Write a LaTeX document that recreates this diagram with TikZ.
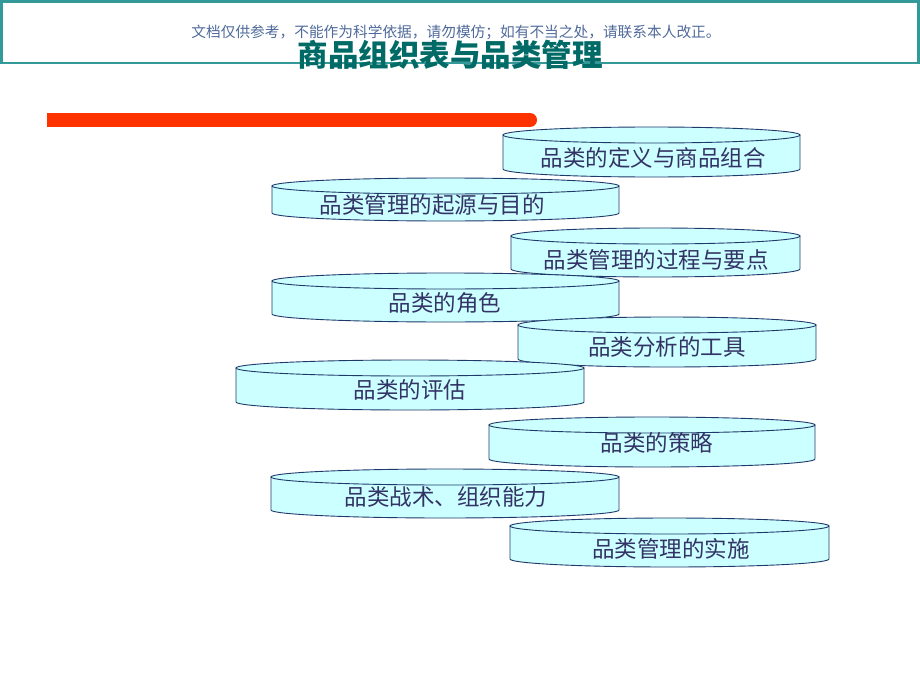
\documentclass[tikz,border=0pt]{standalone}
\usepackage{fontspec}
\newfontfamily\cjk{Noto Sans CJK SC}
\definecolor{framecol}{HTML}{339999}
\definecolor{titlecol}{HTML}{006A66}
\definecolor{notecol}{HTML}{4F6A9A}
\definecolor{barcol}{HTML}{FF3300}
\definecolor{discfill}{HTML}{CCFFFF}
\definecolor{discdraw}{HTML}{1F3A6A}
\definecolor{disccol}{HTML}{333366}
\begin{document}
\begin{tikzpicture}[x=1pt,y=-1pt,
  discline/.style={draw=discdraw,fill=discfill,line width=0.9pt},
  disctext/.style={font=\cjk\fontsize{22.5}{24}\selectfont,text=disccol,inner sep=0pt}]
\useasboundingbox (0,0) rectangle (920,690);
% header box
\draw[framecol,line width=2.5pt] (1.5,1.5) rectangle (918.5,63);
\node[font=\cjk\fontsize{14.7}{16}\selectfont,text=notecol,inner sep=0pt] (note) at (456,32) {文档仅供参考，不能作为科学依据，请勿模仿；如有不当之处，请联系本人改正。};
\node[font=\cjk\bfseries\fontsize{30.5}{32}\selectfont,text=titlecol,inner sep=0pt] (title) at (450,55) {商品组织表与品类管理};
% red bar
\fill[barcol] (47,113) rectangle (530,127);
\fill[barcol] (530,120) circle (7);
% discs
\foreach \l/\r/\t/\b/\tx/\ty/\txt [count=\i] in {
  503/800/127/177/653/158/品类的定义与商品组合,
  272/619/178/221/432/205/品类管理的起源与目的,
  511/800/228/277/656/260/品类管理的过程与要点,
  272/619/273/322/445/303/品类的角色,
  518/816/317/367/667/347/品类分析的工具,
  236/584/360/410/410/390/品类的评估,
  489/815/417/467/657/443/品类的策略,
  271/619/469/518/446/497/品类战术、组织能力,
  510/829/518/567/671/549/品类管理的实施} {
  \pgfmathsetmacro{\rx}{(\r-\l)/2}
  \draw[discline] (\l,\t+8) -- (\l,\b-8) arc[start angle=180,end angle=0,x radius=\rx,y radius=8] -- (\r,\t+8) -- cycle;
  \draw[discline] ({(\l+\r)/2},\t+8) ellipse[x radius=\rx,y radius=8];
  \node[disctext] (disc\i) at (\tx,\ty) {\txt};
}
\end{tikzpicture}
\end{document}
